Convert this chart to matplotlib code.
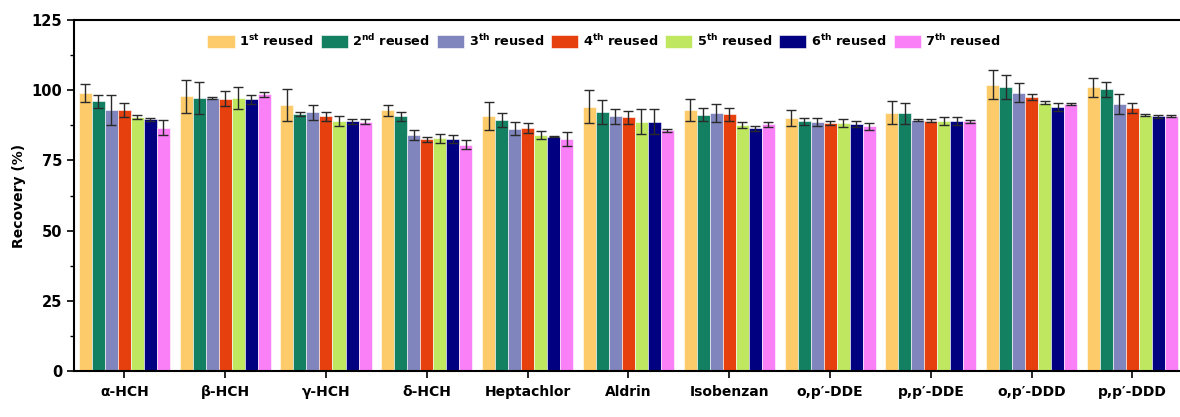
import matplotlib
matplotlib.use("Agg")
import matplotlib.pyplot as plt
import numpy as np
from matplotlib.ticker import MultipleLocator

compounds = ["α-HCH", "β-HCH", "γ-HCH", "δ-HCH", "Heptachlor", "Aldrin", "Isobenzan",
             "o,p′-DDE", "p,p′-DDE", "o,p′-DDD", "p,p′-DDD"]
series_labels = [r"1$^{\mathbf{st}}$ reused", r"2$^{\mathbf{nd}}$ reused", r"3$^{\mathbf{th}}$ reused",
                 r"4$^{\mathbf{th}}$ reused", r"5$^{\mathbf{th}}$ reused", r"6$^{\mathbf{th}}$ reused",
                 r"7$^{\mathbf{th}}$ reused"]
colors = ["#FDCB6A", "#138062", "#8085BD", "#E5400E", "#BFE860", "#000080", "#FA80F8"]

# recovery (%) per reuse cycle, one list per cycle, in compound order
reuse_1 = [98.9, 97.9, 94.7, 92.9, 90.7, 94.1, 92.9, 90.1, 92.0, 102.0, 101.0]
reuse_2 = [96.0, 97.2, 91.6, 90.7, 89.3, 92.2, 91.3, 88.9, 91.8, 101.0, 100.3]
reuse_3 = [92.9, 97.2, 92.1, 84.0, 86.3, 90.7, 91.9, 88.6, 89.4, 99.1, 95.1]
reuse_4 = [92.9, 97.0, 90.7, 82.5, 86.4, 90.3, 91.4, 88.3, 89.1, 97.6, 93.8]
reuse_5 = [90.4, 97.2, 89.0, 82.9, 84.0, 88.8, 87.5, 88.2, 89.1, 95.6, 91.2]
reuse_6 = [89.6, 96.7, 88.9, 82.6, 83.4, 88.8, 86.5, 88.0, 89.1, 94.1, 90.7]
reuse_7 = [86.7, 98.5, 88.8, 80.6, 82.6, 85.7, 87.9, 87.1, 88.9, 95.0, 90.8]

err_1 = [3.2, 5.9, 5.6, 2.0, 5.0, 5.8, 3.8, 3.0, 4.1, 5.2, 3.5]
err_2 = [2.2, 5.6, 0.8, 1.7, 2.5, 4.2, 2.4, 1.3, 3.8, 4.3, 2.8]
err_3 = [5.3, 0.3, 2.7, 1.7, 2.4, 2.7, 3.3, 1.4, 0.4, 3.3, 3.5]
err_4 = [2.5, 2.8, 1.7, 0.8, 1.8, 2.3, 2.4, 0.7, 0.5, 1.0, 1.8]
err_5 = [0.6, 4.0, 1.7, 1.6, 1.4, 4.5, 1.1, 1.4, 1.5, 0.5, 0.5]
err_6 = [0.6, 1.6, 0.8, 1.5, 0.2, 4.5, 0.9, 1.1, 1.5, 1.5, 0.5]
err_7 = [2.6, 1.0, 0.8, 1.5, 2.4, 0.5, 0.9, 1.1, 0.5, 0.3, 0.5]

values = [reuse_1, reuse_2, reuse_3, reuse_4, reuse_5, reuse_6, reuse_7]
errors = [err_1, err_2, err_3, err_4, err_5, err_6, err_7]

plt.rcParams["font.family"] = "DejaVu Sans"
plt.rcParams["font.weight"] = "bold"

fig = plt.figure(figsize=(11.8, 4.17), dpi=100)
ax = fig.add_axes([0.0627, 0.1103, 0.9397, 0.8417])

x = np.arange(len(compounds))
width = 0.129
for i, (vals, errs) in enumerate(zip(values, errors)):
    pos = x + (i - 3) * width
    ax.bar(pos, vals, width, color=colors[i], edgecolor="white", linewidth=0.4,
           label=series_labels[i], zorder=2)
    ax.errorbar(pos, vals, yerr=errs, fmt="none", ecolor="#2a2a2a", elinewidth=1.0,
                capsize=3.5, capthick=1.0, zorder=3)

ax.set_xlim(-0.5, len(compounds) - 0.5)
ax.set_ylim(0, 125)
ax.set_xticks(x)
ax.set_xticklabels(compounds, fontsize=10, fontweight="bold")
ax.yaxis.set_major_locator(MultipleLocator(25))
ax.yaxis.set_minor_locator(MultipleLocator(12.5))
ax.tick_params(axis="y", which="major", direction="out", length=5, width=1.2, labelsize=10.5)
ax.tick_params(axis="y", which="minor", direction="out", length=3, width=1.0)
ax.tick_params(axis="x", direction="out", length=5, width=1.2, pad=5)
ax.set_ylabel("Recovery (%)", fontsize=10, fontweight="bold", labelpad=4)

for side in ["left", "bottom", "top"]:
    ax.spines[side].set_linewidth(1.5)
ax.spines["right"].set_visible(False)

ax.legend(loc="center", bbox_to_anchor=(0.478, 0.94), ncol=7, frameon=False,
          handlelength=2.1, handleheight=1.1, handletextpad=0.35,
          columnspacing=0.55, prop={"weight": "bold", "size": 9.3})

fig.savefig("out.png", dpi=100)
